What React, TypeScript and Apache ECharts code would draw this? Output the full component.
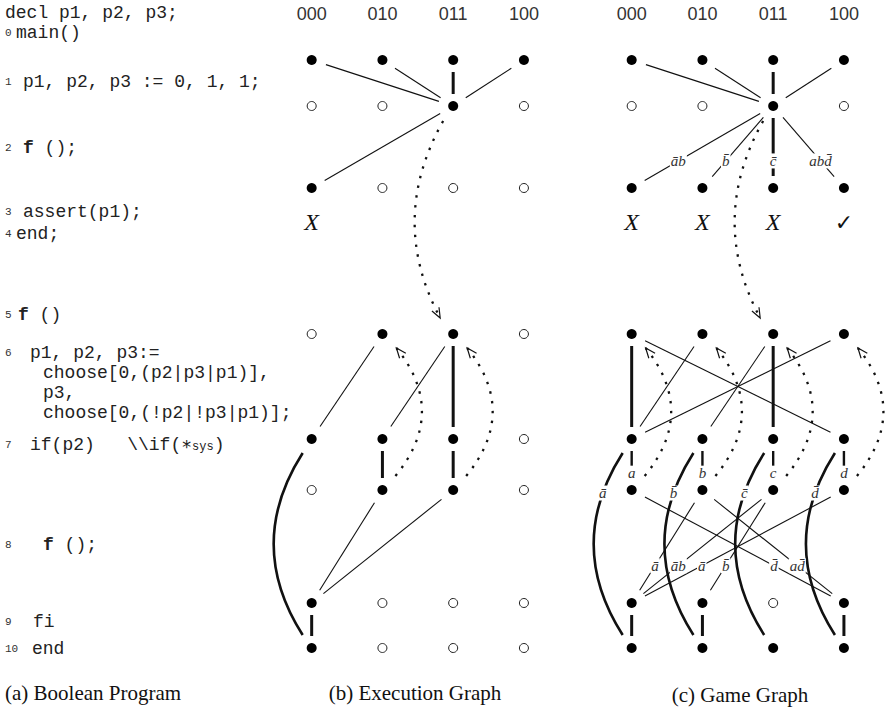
import React, { useEffect, useRef } from 'react';
import * as echarts from 'echarts';

// ---------- data ----------
const COLUMNS = ['000', '010', '011', '100'];
// y position (px) of each program-point row of states
const ROW_Y = [60, 106, 188, 334, 439, 490, 603, 648];
const OUTCOME_Y = 222;

// 1 = reachable (filled), 0 = not reachable (hollow)
const EXEC_NODES = [
  [1, 1, 1, 1],
  [0, 0, 1, 0],
  [1, 0, 0, 0],
  [0, 1, 1, 0],
  [1, 1, 1, 0],
  [0, 1, 1, 0],
  [1, 0, 0, 0],
  [1, 0, 0, 0],
];
const GAME_NODES = [
  [1, 1, 1, 1],
  [0, 0, 1, 0],
  [1, 1, 1, 1],
  [1, 1, 1, 1],
  [1, 1, 1, 1],
  [1, 1, 1, 1],
  [1, 1, 0, 1],
  [1, 1, 1, 1],
];
const EXEC_OUTCOMES = ['X', '', '', ''];
const GAME_OUTCOMES = ['X', 'X', 'X', '\u2713'];

// [fromRow, fromCol, toRow, toCol, kind, label]
const EXEC_EDGES: any[] = [
  [0, 0, 1, 2, 'thin'], [0, 1, 1, 2, 'thin'], [0, 2, 1, 2, 'thick'], [0, 3, 1, 2, 'thin'],
  [1, 2, 2, 0, 'thin'], [1, 2, 3, 2, 'dotDown'],
  [3, 1, 4, 0, 'thin'], [3, 2, 4, 1, 'thin'], [3, 2, 4, 2, 'thick'],
  [5, 1, 3, 1, 'dotUp'], [5, 2, 3, 2, 'dotUp'],
  [4, 1, 5, 1, 'thick'], [4, 2, 5, 2, 'thick'],
  [4, 0, 7, 0, 'arc'],
  [5, 1, 6, 0, 'thin'], [5, 2, 6, 0, 'thin'],
  [6, 0, 7, 0, 'thick'],
];
const GAME_EDGES: any[] = [
  [0, 0, 1, 2, 'thin'], [0, 1, 1, 2, 'thin'], [0, 2, 1, 2, 'thick'], [0, 3, 1, 2, 'thin'],
  [1, 2, 2, 0, 'thin', '\u0101b'], [1, 2, 2, 1, 'thin', 'b\u0304'], [1, 2, 2, 2, 'thick', 'c\u0304'], [1, 2, 2, 3, 'thin', 'abd\u0304'],
  [1, 2, 3, 2, 'dotDown'],
  [3, 0, 4, 0, 'thick'], [3, 0, 4, 3, 'thin'], [3, 1, 4, 0, 'thin'], [3, 2, 4, 1, 'thin'], [3, 2, 4, 2, 'thick'], [3, 3, 4, 0, 'thin'],
  [5, 0, 3, 0, 'dotUp'], [5, 1, 3, 1, 'dotUp'], [5, 2, 3, 2, 'dotUp'], [5, 3, 3, 3, 'dotUp'],
  [4, 0, 5, 0, 'short', 'a'], [4, 1, 5, 1, 'short', 'b'], [4, 2, 5, 2, 'short', 'c'], [4, 3, 5, 3, 'short', 'd'],
  [4, 0, 7, 0, 'arc', '\u0101'], [4, 1, 7, 1, 'arc', 'b\u0304'], [4, 2, 7, 2, 'arc', 'c\u0304'], [4, 3, 7, 3, 'arc', 'd\u0304'],
  [5, 1, 6, 0, 'thin', '\u0101'], [5, 2, 6, 0, 'thin', '\u0101b'], [5, 3, 6, 0, 'thin', '\u0101'], [5, 2, 6, 1, 'thin', 'b\u0304'],
  [5, 0, 6, 3, 'thin', 'd\u0304'], [5, 1, 6, 3, 'thin', 'ad\u0304'],
  [6, 0, 7, 0, 'thick'], [6, 1, 7, 1, 'thick'], [6, 3, 7, 3, 'thick'],
];

// program text
const CODE_NUMS = ['', '0', '1', '2', '3', '4', '5', '6', '', '', '', '7', '8', '9', '10'];
const CODE_TEXT = [
  '{c|decl p1, p2, p3;}',
  '{c|main()}',
  '{c|p1, p2, p3 := 0, 1, 1;}',
  '{b|f}{c| ();}',
  '{c|assert(p1);}',
  '{c|end;}',
  '{b|f}{c| ()}',
  '{c|p1, p2, p3:=}',
  '{c|choose[0,(p2|p3|p1)],}',
  '{c|p3,}',
  '{c|choose[0,(!p2|!p3|p1)];}',
  '{c|if(p2)   \\\\if(\u2217}{s|sys}{c|)}',
  '{b|f}{c| ();}',
  '{c|fi}',
  '{c|end}',
];
const CAPTIONS = ['(a) Boolean Program', '(b) Execution Graph', '(c) Game Graph'];

// ---------- layout / style ----------
const CODE_X = [5, 16, 23, 23, 23, 16, 18, 30, 43, 43, 43, 30, 43, 33, 32];
const CODE_Y = [13, 33, 82, 148, 212, 234, 315, 353, 373, 393, 413, 445, 545, 622, 649];
const CAPTION_POS: any[] = [[5, 693, 'left'], [415, 693, 'center'], [740, 695, 'center']];

const MONO = '"Liberation Mono", "DejaVu Sans Mono", monospace';
const SERIF = '"Liberation Serif", "DejaVu Serif", serif';
const SANS = '"Liberation Sans", Arial, sans-serif';
const INK = '#111';
const CODE_INK = '#222';

const GAP: any = { thin: 15, thick: 12, short: 12 };
const LINE_W: any = { thin: 1.1, thick: 3, short: 2.4 };
const CURVES: any = {
  dotDown: { s: [-10, 15], e: [-13, -16], bulge: -27, dotted: true },
  dotUp: { s: [13, -14], e: [14, 14], bulge: 26, dotted: true },
  arc: { s: [-9, 14], e: [-9, -13], bulge: -29, dotted: false },
};

function geom(api: any, e: any[]) {
  const p1 = api.coord([e[1], ROW_Y[e[0]]]);
  const p2 = api.coord([e[3], ROW_Y[e[2]]]);
  const kind = e[4];
  const c = CURVES[kind];
  if (!c) {
    const dx = p2[0] - p1[0];
    const dy = p2[1] - p1[1];
    const L = Math.hypot(dx, dy);
    const g = GAP[kind];
    return {
      curve: false, p1, p2,
      a: [p1[0] + (dx / L) * g, p1[1] + (dy / L) * g],
      b: [p2[0] - (dx / L) * g, p2[1] - (dy / L) * g],
      cp: [0, 0],
    };
  }
  const a = [p1[0] + c.s[0], p1[1] + c.s[1]];
  const b = [p2[0] + c.e[0], p2[1] + c.e[1]];
  const cp = [(a[0] + b[0]) / 2 + 2 * c.bulge, (a[1] + b[1]) / 2];
  return { curve: true, p1, p2, a, b, cp };
}

function labelPoint(g: any) {
  if (!g.curve) {
    const t = 0.67;
    return [g.p1[0] + (g.p2[0] - g.p1[0]) * t, g.p1[1] + (g.p2[1] - g.p1[1]) * t];
  }
  const t = 0.22;
  const u = 1 - t;
  return [
    u * u * g.a[0] + 2 * u * t * g.cp[0] + t * t * g.b[0],
    u * u * g.a[1] + 2 * u * t * g.cp[1] + t * t * g.b[1],
  ];
}

function edgeRenderer(edges: any[]) {
  return (_params: any, api: any) => {
    const e = edges[api.value(2)];
    const kind = e[4];
    const g = geom(api, e);
    if (!g.curve) {
      return {
        type: 'line',
        shape: { x1: g.a[0], y1: g.a[1], x2: g.b[0], y2: g.b[1] },
        style: { stroke: INK, lineWidth: LINE_W[kind], fill: 'none' },
      };
    }
    const c = CURVES[kind];
    const curveStyle: any = { stroke: INK, fill: 'none', lineWidth: c.dotted ? 2.3 : 2.6 };
    if (c.dotted) curveStyle.lineDash = [2.4, 7.5];
    const children: any[] = [
      {
        type: 'bezierCurve',
        shape: { x1: g.a[0], y1: g.a[1], x2: g.b[0], y2: g.b[1], cpx1: g.cp[0], cpy1: g.cp[1] },
        style: curveStyle,
      },
    ];
    if (c.dotted) {
      const dx = g.b[0] - g.cp[0];
      const dy = g.b[1] - g.cp[1];
      const L = Math.hypot(dx, dy);
      const ux = dx / L;
      const uy = dy / L;
      const back = 10;
      const half = 4;
      children.push({
        type: 'polyline',
        shape: {
          points: [
            [g.b[0] - ux * back - uy * half, g.b[1] - uy * back + ux * half],
            [g.b[0], g.b[1]],
            [g.b[0] - ux * back + uy * half, g.b[1] - uy * back - ux * half],
          ],
        },
        style: { stroke: INK, fill: 'none', lineWidth: 1.2 },
      });
    }
    return { type: 'group', children };
  };
}

function labelRenderer(edges: any[]) {
  return (_params: any, api: any) => {
    const e = edges[api.value(2)];
    const [x, y] = labelPoint(geom(api, e));
    return {
      type: 'text',
      x,
      y,
      style: {
        text: e[5],
        fill: '#333',
        fontSize: 15,
        fontFamily: SERIF,
        fontStyle: 'italic',
        align: 'center',
        verticalAlign: 'middle',
        backgroundColor: '#fff',
        padding: [0, 1],
      },
    };
  };
}

function graphSeries(gi: number, nodes: number[][], edges: any[], outcomes: string[]) {
  const filled: number[][] = [];
  const hollow: number[][] = [];
  nodes.forEach((row, r) => row.forEach((v, c) => (v ? filled : hollow).push([c, ROW_Y[r]])));
  const edgeData = edges.map((e, i) => [e[1], ROW_Y[e[0]], i]);
  const labelData = edgeData.filter((d) => edges[d[2]][5]);
  const outcomeData = outcomes.map((o, i) => [i, OUTCOME_Y, i]).filter((d) => outcomes[d[2]]);
  const common = { xAxisIndex: gi, yAxisIndex: gi, silent: true };
  return [
    { ...common, type: 'custom', z: 2, data: edgeData, renderItem: edgeRenderer(edges) },
    { ...common, type: 'custom', z: 3, data: labelData, renderItem: labelRenderer(edges) },
    {
      ...common, type: 'scatter', z: 4, data: filled, symbol: 'circle', symbolSize: 10,
      itemStyle: { color: '#000', opacity: 1 },
    },
    {
      ...common, type: 'scatter', z: 4, data: hollow, symbol: 'circle', symbolSize: 9,
      itemStyle: { color: '#fff', borderColor: '#222', borderWidth: 1, opacity: 1 },
    },
    {
      ...common, type: 'custom', z: 4, data: outcomeData,
      renderItem: (_p: any, api: any) => {
        const p = api.coord([api.value(0), api.value(1)]);
        const t = outcomes[api.value(2)];
        const check = t === '\u2713';
        return {
          type: 'text', x: p[0], y: p[1],
          style: {
            text: t, fill: INK, fontSize: check ? 22 : 24,
            fontFamily: check ? '"DejaVu Sans", sans-serif' : SERIF,
            fontStyle: check ? 'normal' : 'italic',
            align: 'center', verticalAlign: 'middle',
          },
        };
      },
    },
  ];
}

const RICH = {
  c: { fontSize: 18, lineHeight: 16, fontFamily: MONO, fill: CODE_INK },
  b: { fontSize: 18, lineHeight: 16, fontFamily: MONO, fill: CODE_INK, fontWeight: 'bold' },
  s: { fontSize: 12, lineHeight: 16, fontFamily: MONO, fill: CODE_INK, verticalAlign: 'bottom' },
};

export default function App() {
  const ref = useRef<HTMLDivElement>(null);
  useEffect(() => {
    if (!ref.current) return;
    const chart = echarts.init(ref.current, undefined, { renderer: 'svg' });
    const graphic: any[] = [];
    CODE_TEXT.forEach((t, i) => {
      if (CODE_NUMS[i]) {
        graphic.push({
          type: 'text', x: 5, y: CODE_Y[i], silent: true,
          style: { text: CODE_NUMS[i], fontSize: 11, fontFamily: MONO, fill: '#333', verticalAlign: 'middle' },
        });
      }
      graphic.push({
        type: 'text', x: CODE_X[i], y: CODE_Y[i], silent: true,
        style: {
          text: t, rich: RICH, fontSize: 18, lineHeight: 16, fontFamily: MONO, fill: CODE_INK,
          verticalAlign: 'middle',
        },
      });
    });
    CAPTIONS.forEach((c, i) => {
      graphic.push({
        type: 'text', x: CAPTION_POS[i][0], y: CAPTION_POS[i][1], silent: true,
        style: {
          text: c, fontSize: 21, fontFamily: SERIF, fill: INK,
          align: CAPTION_POS[i][2], verticalAlign: 'middle',
        },
      });
    });
    const gridLeft = [276.3, 596.3];
    chart.setOption({
      animation: false,
      backgroundColor: '#fff',
      grid: gridLeft.map((l) => ({ left: l, top: 30, width: 283, height: 681, outerBoundsMode: 'none', containLabel: false })),
      xAxis: [0, 1].map((gi) => ({
        gridIndex: gi, type: 'category', data: COLUMNS, position: 'top', boundaryGap: true,
        axisLine: { show: false }, axisTick: { show: false }, splitLine: { show: false },
        axisLabel: { show: true, interval: 0, fontSize: 18, fontFamily: SANS, color: '#333', margin: 7 },
      })),
      yAxis: [0, 1].map((gi) => ({
        gridIndex: gi, type: 'value', min: 30, max: 711, inverse: true, show: false,
      })),
      graphic,
      series: [
        ...graphSeries(0, EXEC_NODES, EXEC_EDGES, EXEC_OUTCOMES),
        ...graphSeries(1, GAME_NODES, GAME_EDGES, GAME_OUTCOMES),
      ],
    });
    return () => chart.dispose();
  }, []);
  return (
    <div
      ref={ref}
      style={{ position: 'absolute', left: 0, top: 0, width: 887, height: 711 }}
    />
  );
}
